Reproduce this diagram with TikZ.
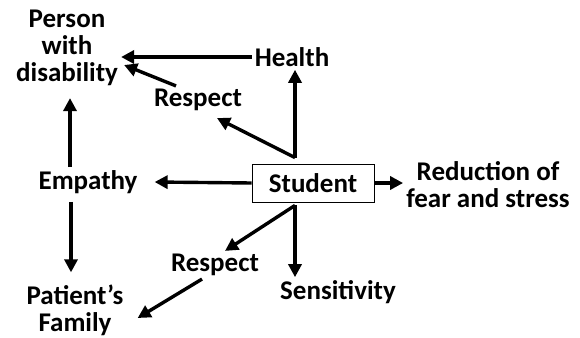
\documentclass[tikz,border=0pt]{standalone}
\usepackage{fontspec}
\setmainfont{Carlito}
\usetikzlibrary{arrows.meta}
\tikzset{
	lbl/.style={font=\fontsize{27}{27}\selectfont\bfseries, align=center, inner sep=3pt},
	arr/.style={-{Triangle[length=13pt,width=13pt]}, line width=3.4pt},
}
\begin{document}
\begin{tikzpicture}[x=1pt,y=-1pt]
	\useasboundingbox (0,0) rectangle (580,337);

	\node [lbl] (pwd) at (67,48) {Person\\with\\disability};
	\node [lbl] (health) at (292,57) {Health};
	\node [lbl] (resp1) at (198,100) {Respect};
	\node [lbl, draw, line width=0.8pt, minimum width=122pt, minimum height=38pt] (stu) at (313,183) {Student};
	\node [lbl] (red) at (488,185) {Reduction of\\fear and stress};
	\node [lbl] (emp) at (88,182) {Empathy};
	\node [lbl] (resp2) at (215,265) {Respect};
	\node [lbl] (sens) at (338,292) {Sensitivity};
	\node [lbl] (fam) at (75,310) {Patient’s\\Family};

	\coordinate (stutop) at ([xshift=-18pt,yshift=6pt]stu.north);
	\coordinate (stubot) at ([xshift=-18pt,yshift=-3pt]stu.south);

	\draw [arr] (health.west) -- (pwd.east |- health.west);
	\draw [arr] ([xshift=-22pt]resp1.north) -- ([xshift=3pt,yshift=-17pt]pwd.east);
	\draw [arr] (stutop) -- (stutop |- health.south);
	\draw [arr] (stutop) -- ([xshift=19pt,yshift=-4pt]resp1.south);
	\draw [arr] ([xshift=-18pt]emp.north) -- ([xshift=3pt,yshift=-9pt]pwd.south);
	\draw [arr] (stu.west) -- ([xshift=14pt]emp.east);
	\draw [arr] (stu.east) -- (stu.east -| red.west);
	\draw [arr] ([xshift=-17pt,yshift=-5pt]emp.south) -- ([xshift=-4pt,yshift=9pt]fam.north);
	\draw [arr] (stubot) -- (stubot |- sens.north);
	\draw [arr] (stubot) -- ([xshift=10pt]resp2.north);
	\draw [arr] ([xshift=-13pt]resp2.south) -- ([xshift=11pt,yshift=-8pt]fam.east);
\end{tikzpicture}
\end{document}
